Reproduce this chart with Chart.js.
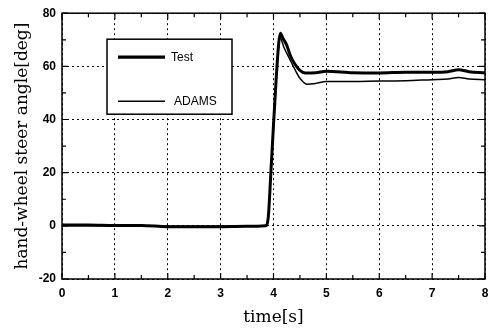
<!DOCTYPE html>
<html lang="en">
<head>
    <meta charset="UTF-8">
    <title>hand-wheel steer angle</title>
    <style>
        body {
            margin: 0;
            padding: 0;
            background-color: #fff;
        }

        .chart-container {
            width: 497px;
            height: 328px;
        }
    </style>
</head>
<body>
    <div class="chart-container">
        <canvas id="steerChart"></canvas>
    </div>

    <script src="https://cdn.jsdelivr.net/npm/chart.js"></script>
    <script>
        // Data
        const testTime = [0, 0.5, 1, 1.5, 2, 2.5, 3, 3.5, 3.85, 3.9, 3.95, 4.0, 4.05, 4.1, 4.13, 4.18, 4.25, 4.32, 4.4, 4.5, 4.6, 4.8, 5.0, 5.5, 6.0, 6.5, 7.0, 7.3, 7.5, 7.7, 8.0];
        const testAngle = [0.3, 0.3, 0.1, 0.1, -0.3, -0.3, -0.3, -0.2, 0, 3, 20, 38, 55, 69, 72.5, 70.5, 68, 64, 61, 58.5, 57.5, 57.6, 58.2, 57.6, 57.5, 57.8, 57.8, 58, 58.7, 58, 57.6];
        const adamsTime = [0, 0.5, 1, 1.5, 2, 2.5, 3, 3.5, 3.85, 3.9, 3.95, 4.0, 4.05, 4.1, 4.13, 4.2, 4.3, 4.4, 4.5, 4.63, 4.8, 5.0, 5.5, 6.0, 6.5, 7.0, 7.3, 7.5, 7.7, 8.0];
        const adamsAngle = [0, 0, 0, 0, -0.2, -0.2, -0.2, -0.2, 0, 3, 20, 38, 55, 68, 70.5, 67, 63, 59, 55.5, 53.3, 53.6, 54.3, 54.3, 54.5, 54.6, 55, 55.2, 55.8, 55.2, 55];
        const xTicks = [0, 1, 2, 3, 4, 5, 6, 7, 8];
        const yTicks = [-20, 0, 20, 40, 60, 80];
        const legendLabels = ['Test', 'ADAMS'];

        function toPoints(xs, ys) {
            return xs.map(function(x, i) { return { x: x, y: ys[i] }; });
        }

        // frame, inside ticks and legend box
        const framePlugin = {
            id: 'frame',
            afterDraw: function(chart) {
                const ctx = chart.ctx;
                const a = chart.chartArea;
                const xs = chart.scales.x;
                const ys = chart.scales.y;
                ctx.save();
                ctx.strokeStyle = '#000';
                ctx.lineWidth = 1.5;
                ctx.strokeRect(a.left, a.top, a.right - a.left, a.bottom - a.top);

                ctx.lineWidth = 1.2;
                ctx.beginPath();
                for (let v = 0; v <= 8; v += 0.5) {
                    const px = xs.getPixelForValue(v);
                    const len = (v % 1 === 0) ? 6 : 4;
                    ctx.moveTo(px, a.bottom); ctx.lineTo(px, a.bottom - len);
                    ctx.moveTo(px, a.top); ctx.lineTo(px, a.top + len);
                }
                for (let v = -20; v <= 80; v += 10) {
                    const py = ys.getPixelForValue(v);
                    const len = (v % 20 === 0) ? 6 : 4;
                    ctx.moveTo(a.left, py); ctx.lineTo(a.left + len, py);
                    ctx.moveTo(a.right, py); ctx.lineTo(a.right - len, py);
                }
                ctx.stroke();

                // legend box
                const bx = a.left + 45, by = a.top + 26, bw = 125, bh = 75;
                ctx.fillStyle = '#fff';
                ctx.fillRect(bx, by, bw, bh);
                ctx.lineWidth = 1.5;
                ctx.strokeRect(bx, by, bw, bh);
                ctx.font = '12px "Liberation Sans", Arial, sans-serif';
                ctx.fillStyle = '#000';
                ctx.textBaseline = 'middle';
                const rows = [{ y: by + 18, w: 3.2 }, { y: by + 62, w: 1.5 }];
                rows.forEach(function(r, i) {
                    ctx.lineWidth = r.w;
                    ctx.beginPath();
                    ctx.moveTo(bx + 11, r.y);
                    ctx.lineTo(bx + 58, r.y);
                    ctx.stroke();
                    ctx.fillText(legendLabels[i], bx + (i === 0 ? 64 : 67), r.y);
                });
                ctx.restore();
            }
        };

        const steerCtx = document.getElementById('steerChart').getContext('2d');
        const steerChart = new Chart(steerCtx, {
            type: 'line',
            data: {
                datasets: [{
                    label: 'Test',
                    data: toPoints(testTime, testAngle),
                    borderColor: '#000',
                    borderWidth: 3,
                    pointRadius: 0,
                    cubicInterpolationMode: 'monotone'
                }, {
                    label: 'ADAMS',
                    data: toPoints(adamsTime, adamsAngle),
                    borderColor: '#000',
                    borderWidth: 1.5,
                    pointRadius: 0,
                    cubicInterpolationMode: 'monotone'
                }]
            },
            options: {
                responsive: true,
                maintainAspectRatio: false,
                animation: false,
                layout: {
                    padding: { top: 11, right: 12, left: 0, bottom: 0 }
                },
                plugins: {
                    legend: { display: false },
                    tooltip: { enabled: false }
                },
                scales: {
                    x: {
                        type: 'linear',
                        min: 0,
                        max: 8,
                        afterBuildTicks: function(scale) {
                            scale.ticks = xTicks.map(function(v) { return { value: v }; });
                        },
                        afterFit: function(scale) { scale.height = 49; },
                        grid: {
                            color: '#000',
                            lineWidth: 1,
                            drawTicks: false
                        },
                        border: { display: false, dash: [2, 3] },
                        ticks: {
                            color: '#000',
                            padding: 7,
                            font: { family: '"Liberation Sans", Arial, sans-serif', size: 12, weight: 'bold' }
                        },
                        title: {
                            display: true,
                            text: 'time[s]',
                            color: '#000',
                            padding: { top: 0, bottom: 0 },
                            font: { family: '"DejaVu Serif", serif', size: 17 }
                        }
                    },
                    y: {
                        min: -20,
                        max: 80,
                        afterBuildTicks: function(scale) {
                            scale.ticks = yTicks.map(function(v) { return { value: v }; });
                        },
                        afterFit: function(scale) { scale.width = 62; },
                        grid: {
                            color: '#000',
                            lineWidth: 1,
                            drawTicks: false
                        },
                        border: { display: false, dash: [2, 3] },
                        ticks: {
                            color: '#000',
                            padding: 6,
                            font: { family: '"Liberation Sans", Arial, sans-serif', size: 12, weight: 'bold' }
                        },
                        title: {
                            display: true,
                            text: 'hand-wheel steer angle[deg]',
                            color: '#000',
                            padding: { top: 12, bottom: 0 },
                            font: { family: '"DejaVu Serif", serif', size: 17 }
                        }
                    }
                }
            },
            plugins: [framePlugin]
        });

        // dotted grid
        steerChart.options.scales.x.grid.borderDash = [2, 3];
        steerChart.options.scales.y.grid.borderDash = [2, 3];
        steerChart.update();
    </script>
</body>
</html>
